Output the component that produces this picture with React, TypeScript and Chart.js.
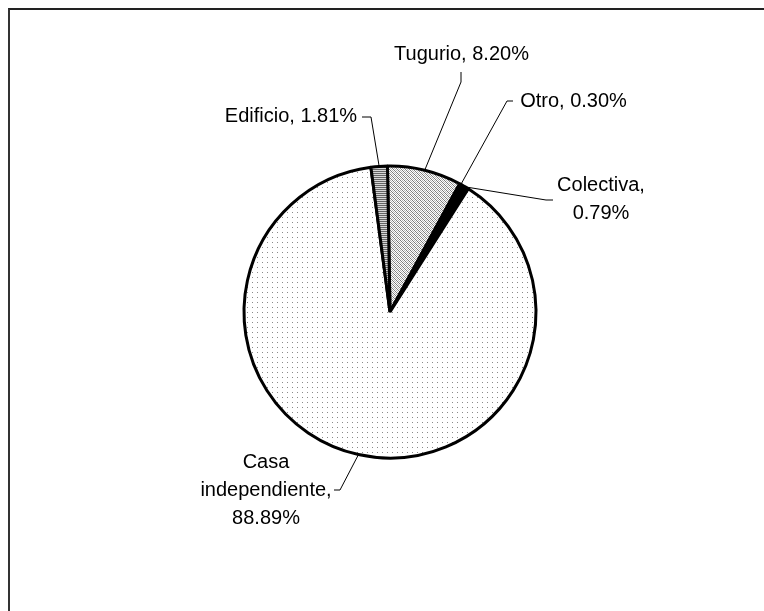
import React, { useEffect, useRef } from "react";
import { Chart, registerables } from "chart.js";

Chart.register(...registerables);

// Housing type shares (percent of dwellings), clockwise from 12 o'clock
const categories = ["Tugurio", "Otro", "Colectiva", "Casa independiente", "Edificio"];
const shares = [8.2, 0.3, 0.79, 88.89, 1.81];

// How each label is broken into lines: 0 = one line, 1 = value on its own line, 2 = one word per line
const labelWraps = [0, 0, 1, 2, 0];

const LABEL_FONT = '20px "Liberation Sans", Arial, sans-serif';
const LINE_GAP = 28;

// Label placement and the short leader segment leaving each label
type LabelLayout = { x: number; y: number; tick: [number, number, number, number] };
const labelLayout: LabelLayout[] = [
  { x: 461.5, y: 54, tick: [461, 72, 461, 82] },
  { x: 573.5, y: 101, tick: [513, 101, 507, 101] },
  { x: 601, y: 185, tick: [553, 200, 546, 200] },
  { x: 266, y: 462, tick: [334, 490, 340, 490] },
  { x: 291, y: 116, tick: [362, 117, 371, 117] },
];

function labelLines(i: number): string[] {
  const cat = categories[i];
  const val = shares[i].toFixed(2) + "%";
  if (labelWraps[i] === 1) return [cat + ",", val];
  if (labelWraps[i] === 2) {
    const words = cat.split(" ");
    words[words.length - 1] += ",";
    return [...words, val];
  }
  return [cat + ", " + val];
}

function makePattern(w: number, h: number, paint: (c: CanvasRenderingContext2D) => void): CanvasPattern {
  const tile = document.createElement("canvas");
  tile.width = w;
  tile.height = h;
  const c = tile.getContext("2d")!;
  c.fillStyle = "#ffffff";
  c.fillRect(0, 0, w, h);
  paint(c);
  return c.createPattern(tile, "repeat")!;
}

const leaderPlugin = {
  id: "leaderLabels",
  afterDraw(chart: Chart) {
    const ctx = chart.ctx;
    const meta = chart.getDatasetMeta(0);
    ctx.save();
    ctx.strokeStyle = "#000";
    ctx.lineWidth = 1;
    ctx.fillStyle = "#000";
    ctx.font = LABEL_FONT;
    ctx.textAlign = "center";
    ctx.textBaseline = "middle";
    meta.data.forEach((el: any, i: number) => {
      const p = el.getProps(["x", "y", "startAngle", "endAngle", "outerRadius"], true);
      const mid = (p.startAngle + p.endAngle) / 2;
      const ax = p.x + Math.cos(mid) * p.outerRadius;
      const ay = p.y + Math.sin(mid) * p.outerRadius;
      const lay = labelLayout[i];
      ctx.beginPath();
      ctx.moveTo(lay.tick[0], lay.tick[1]);
      ctx.lineTo(lay.tick[2], lay.tick[3]);
      ctx.lineTo(ax, ay);
      ctx.stroke();
      labelLines(i).forEach((line, k) => {
        ctx.fillText(line, lay.x, lay.y + k * LINE_GAP);
      });
    });
    ctx.restore();
  },
};

export default function App() {
  const canvasRef = useRef<HTMLCanvasElement | null>(null);

  useEffect(() => {
    document.documentElement.style.overflow = "hidden";
    document.body.style.overflow = "hidden";
    const canvas = canvasRef.current;
    if (!canvas) return;

    const dots = makePattern(5, 5, (c) => {
      c.fillStyle = "#8a8a8a";
      c.fillRect(2, 2, 1, 1);
    });
    const diagonal = makePattern(4, 4, (c) => {
      for (let y = 0; y < 4; y++) {
        for (let x = 0; x < 4; x++) {
          if ((x - y + 4) % 4 === 0) {
            c.fillStyle = "#7c7c7c";
            c.fillRect(x, y, 1, 1);
          } else if ((x - y + 4) % 4 === 2) {
            c.fillStyle = "#b4b4b4";
            c.fillRect(x, y, 1, 1);
          }
        }
      }
    });
    const stripes = makePattern(2, 2, (c) => {
      c.fillStyle = "#d6d6d6";
      c.fillRect(0, 0, 2, 1);
      c.fillStyle = "#646464";
      c.fillRect(0, 1, 2, 1);
    });

    const chart = new Chart(canvas, {
      type: "pie",
      data: {
        labels: categories,
        datasets: [
          {
            data: shares,
            backgroundColor: [diagonal, "#000000", "#000000", dots, stripes] as any,
            borderColor: "#000000",
            borderWidth: 3,
          },
        ],
      },
      options: {
        responsive: false,
        animation: false,
        rotation: -1,
        radius: 146,
        layout: { padding: { left: 16, right: 0, top: 13, bottom: 0 } },
        plugins: {
          legend: { display: false },
          tooltip: { enabled: false },
        },
      },
      plugins: [leaderPlugin],
    });
    return () => chart.destroy();
  }, []);

  return (
    <>
      <div
        style={{
          position: "fixed",
          left: 8,
          top: 8,
          width: 800,
          height: 700,
          borderTop: "2px solid #222",
          borderLeft: "2px solid #333",
          background: "#fff",
        }}
      />
      <canvas
        ref={canvasRef}
        width={764}
        height={611}
        style={{ position: "fixed", left: 0, top: 0, width: 764, height: 611 }}
      />
    </>
  );
}
